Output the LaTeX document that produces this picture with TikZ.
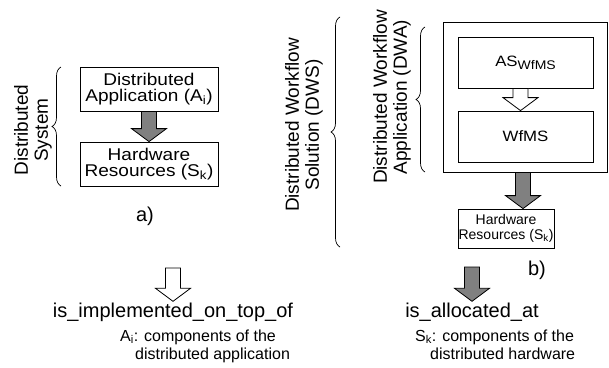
\documentclass[tikz,border=0pt]{standalone}
\usepackage{fontspec}
\setmainfont{Liberation Sans}
\newfontfamily\boxfont[FakeStretch=1.12]{Liberation Sans}
\usetikzlibrary{decorations.pathreplacing,calc}
\begin{document}
\begin{tikzpicture}[x=1pt,y=-1pt,
  box/.style={draw, line width=0.8pt, inner sep=0pt, align=center},
  bigtxt/.style={font=\boxfont\fontsize{17}{16.5}\selectfont},
  midtxt/.style={font=\boxfont\fontsize{15}{15}\selectfont},
  smalltxt/.style={font=\fontsize{14}{14.5}\selectfont},
  vlabel/.style={rotate=90, align=center, inner sep=0pt, font=\fontsize{19}{20}\selectfont},
  lbl/.style={inner sep=1pt, font=\fontsize{20}{20}\selectfont},
  note/.style={inner sep=0pt, align=left, anchor=base west, font=\fontsize{16}{18}\selectfont},
  brc/.style={decorate, decoration={brace, amplitude=9pt}, line width=0.7pt},
  blockarrow/.style={draw, line width=0.8pt, line join=miter, to path={
     let \p1=(\tikztostart), \p2=(\tikztotarget) in
     (\x1-7.5pt,\y1) -- (\x1+7.5pt,\y1) -- (\x1+7.5pt,\y2+13pt) -- (\x1+17.5pt,\y2+13pt)
     -- (\x1,\y2) -- (\x1-17.5pt,\y2+13pt) -- (\x1-7.5pt,\y2+13pt) -- cycle}},
  greyarrow/.style={blockarrow, fill=black!50},
  whitearrow/.style={blockarrow, fill=white},
]
\useasboundingbox (0,0) rectangle (609,367);

% ---- a) ----
\node[box, bigtxt, minimum width=138, minimum height=44] (app) at (149,89)
  {Distributed\\Application (A\textsubscript{i})};
\node[box, bigtxt, minimum width=138, minimum height=44] (hwa) at (149,164)
  {Hardware\\Resources (S\textsubscript{k})};
\draw[greyarrow] (app.south) to (hwa.north);
\draw[brc] (61,186) -- (61,67);
\node[vlabel] (ds) at (33,130) {Distributed\\System};
\node[lbl] (la) at (145,216) {a)};

% ---- b) ----
\node[box, minimum width=164, minimum height=150] (outer) at (525,97) {};
\node[box, midtxt, minimum width=135, minimum height=51] (as) at (525.5,62.5)
  {AS\raisebox{-3pt}{\fontsize{12.5}{12.5}\selectfont WfMS}};
\node[box, midtxt, minimum width=135, minimum height=51] (wf) at (525.5,136.5) {WfMS};
\node[box, smalltxt, minimum width=96, minimum height=39] (hwb) at (506,228.5)
  {Hardware\\Resources (S\textsubscript{k})};
\draw[whitearrow] ([xshift=-5pt]as.south) to (wf.north);
\draw[greyarrow] ([xshift=-2pt]outer.south) to (hwb.north);
\draw[brc] (340,247) -- (340,17);
\node[vlabel] (dws) at (304,125) {Distributed Workflow\\Solution (DWS)};
\draw[brc] (425,172) -- (425,27);
\node[vlabel] (dwa) at (392,97) {Distributed Workflow\\Application (DWA)};
\node[lbl] (lb) at (537,270) {b)};

% ---- legend ----
\node[lbl, anchor=base] (impl) at (173,317) {is\_implemented\_on\_top\_of};
\coordinate (l1) at (173,268);
\draw[whitearrow] (l1) to (impl.north);
\node[note] (na) at (120,359) {A\textsubscript{i}: components of the\\\hspace*{15pt}distributed application};

\node[lbl, anchor=base] (alloc) at (472,317) {is\_allocated\_at};
\coordinate (l2) at (472,267);
\draw[greyarrow] (l2) to (alloc.north);
\node[note] (nb) at (415,359) {S\textsubscript{k}: components of the\\\hspace*{15pt}distributed hardware};
\end{tikzpicture}
\end{document}
